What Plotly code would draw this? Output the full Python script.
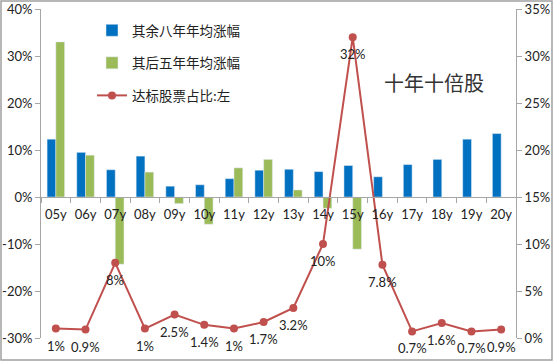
import plotly.graph_objects as go

categories = ["05y","06y","07y","08y","09y","10y","11y","12y","13y","14y","15y","16y","17y","18y","19y","20y"]
other8_avg = [0.123,0.095,0.058,0.087,0.023,0.026,0.039,0.057,0.059,0.054,0.067,0.043,0.069,0.080,0.123,0.135]
next5_avg = [0.330,0.089,-0.143,0.053,-0.014,-0.058,0.062,0.080,0.015,-0.024,-0.111,None,None,None,None,None]
share = [0.01,0.009,0.08,0.01,0.025,0.014,0.01,0.017,0.032,0.10,0.32,0.078,0.007,0.016,0.007,0.009]
share_labels = ["1%","0.9%","8%","1%","2.5%","1.4%","1%","1.7%","3.2%","10%","32%","7.8%","0.7%","1.6%","0.7%","0.9%"]
left_ticks = [-0.3,-0.2,-0.1,0,0.1,0.2,0.3,0.4]
left_ticktext = ["-30%","-20%","-10%","0%","10%","20%","30%","40%"]
right_ticks = [0,0.05,0.10,0.15,0.20,0.25,0.30,0.35]
right_ticktext = ["0%","5%","10%","15%","20%","25%","30%","35%"]

FONT = "Lato, Noto Sans CJK SC, sans-serif"
CJK = "Noto Sans CJK SC, sans-serif"

fig = go.Figure()
fig.add_trace(go.Bar(x=categories, y=other8_avg, name="其余八年年均涨幅", marker_color="#0070C0",
                     legendgroup="a"))
fig.add_trace(go.Bar(x=categories, y=next5_avg, name="其后五年年均涨幅", marker_color="#9BBB59",
                     legendgroup="b"))
fig.add_trace(go.Scatter(x=categories, y=share, name="达标股票占比:左", yaxis="y2",
                         mode="lines+markers", cliponaxis=False,
                         line=dict(color="#C0504D", width=2), marker=dict(color="#C0504D", size=8),
                         legendgroup="c"))

L, R, T, B = 41, 38, 9, 24
W, H = 554, 362
pw, ph = W - L - R, H - T - B

def px(x):
    return (x - L) / pw

def py(y):
    return (H - B - y) / ph

axis_common = dict(automargin=False, tickfont=dict(size=13, family=FONT, color="#222"))

annotations = [dict(text=t, x=c, y=v, xref="x", yref="y2", showarrow=False, yshift=-17,
                    xanchor="center", yanchor="middle",
                    font=dict(family=FONT, size=13, color="#222"))
               for c, v, t in zip(categories, share, share_labels)]
annotations.append(dict(text="十年十倍股", x=px(434), y=py(83), xref="paper", yref="paper",
                        xanchor="center", yanchor="middle",
                        showarrow=False, font=dict(family=CJK, size=20, color="#333")))

fig.update_layout(
    width=W, height=H,
    margin=dict(l=L, r=R, t=T, b=B, autoexpand=False),
    paper_bgcolor="white", plot_bgcolor="white",
    barmode="group", bargap=0.41, bargroupgap=0,
    font=dict(family=FONT, size=12, color="#222"),
    showlegend=True,
    legend=dict(x=px(92), y=py(15), xanchor="left", yanchor="top",
                font=dict(family=CJK, size=13.5, color="#222"),
                bgcolor="rgba(0,0,0,0)", traceorder="grouped", tracegroupgap=12,
                itemwidth=30),
    xaxis=dict(type="category", anchor="free", position=3/7, showline=True, linecolor="#A6A6A6",
               linewidth=1, ticks="outside", tickson="boundaries", ticklen=5, tickcolor="#A6A6A6",
               showgrid=False, tickangle=0, range=[-0.5, 15.5], ticklabelstandoff=5, **axis_common),
    yaxis=dict(range=[-0.3, 0.4], tickvals=left_ticks, ticktext=left_ticktext, showgrid=False,
               zeroline=False, showline=True, linecolor="#A6A6A6", ticks="outside", ticklen=5,
               tickcolor="#A6A6A6", **axis_common),
    yaxis2=dict(range=[0, 0.35], tickvals=right_ticks, ticktext=right_ticktext, overlaying="y",
                side="right", showgrid=False, zeroline=False, showline=True, linecolor="#A6A6A6",
                ticks="outside", ticklen=5, tickcolor="#A6A6A6", **axis_common),
    annotations=annotations,
    shapes=[dict(type="rect", xref="paper", yref="paper", x0=px(1), x1=px(552), y0=py(360), y1=py(1),
                 line=dict(color="#A0A0A0", width=1.5), layer="below")],
)

fig.write_html("out.html", config={"displayModeBar": False},
               post_script="document.body.style.margin='0';document.body.style.overflow='hidden';")
